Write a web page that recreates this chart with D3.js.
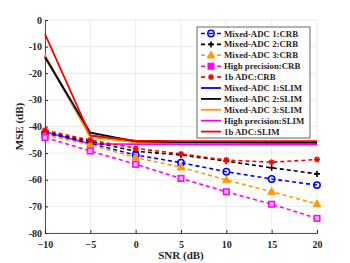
<!DOCTYPE html>
<html><head><meta charset="utf-8">
<script src="https://cdn.jsdelivr.net/npm/d3@7"></script>
<style>body{margin:0;background:#fff}svg{display:block}text{font-family:"Liberation Serif","Times New Roman",serif;font-weight:bold}</style>
</head><body>
<script>
const snr = [-10, -5, 0, 5, 10, 15, 20];
const yTicks = [0, -10, -20, -30, -40, -50, -60, -70, -80];
// CRB series
const crbMixed1 = [-42.5, -46.3, -50.7, -53.6, -57.0, -59.7, -62.0];
const crbMixed2 = [-42.0, -45.6, -49.3, -50.7, -53.0, -55.5, -57.8];
const crbMixed3 = [-43.2, -46.9, -51.6, -55.3, -60.1, -64.5, -69.1];
const crbHigh   = [-44.1, -49.2, -54.2, -59.5, -64.5, -69.2, -74.5];
const crb1b     = [-41.4, -45.1, -48.2, -50.3, -52.6, -53.4, -52.4];
// SLIM series
const slimMixed1 = [-13.6, -43.5, -45.8, -46.2, -46.3, -46.3, -46.3];
const slimMixed2 = [-14.0, -42.3, -45.6, -45.9, -46.0, -46.0, -46.0];
const slimMixed3 = [-13.0, -44.0, -46.0, -46.2, -46.2, -46.2, -46.2];
const slimHigh   = [-42.0, -46.5, -46.6, -46.7, -46.8, -46.8, -46.8];
const slim1b     = [-5.3, -43.3, -45.3, -45.5, -45.5, -45.5, -45.5];

const legendLabels = ["Mixed-ADC 1:CRB","Mixed-ADC 2:CRB","Mixed-ADC 3:CRB","High precision:CRB","1b ADC:CRB",
  "Mixed-ADC 1:SLIM","Mixed-ADC 2:SLIM","Mixed-ADC 3:SLIM","High precision:SLIM","1b ADC:SLIM"];

const series = [
  {v: slimMixed1, c: "#0000ff", dash: null, m: null},
  {v: slimMixed3, c: "#ff9900", dash: null, m: null},
  {v: slimMixed2, c: "#000000", dash: null, m: null},
  {v: slimHigh,   c: "#ff00ff", dash: null, m: null},
  {v: slim1b,     c: "#ff0000", dash: null, m: null},
  {v: crbMixed2, c: "#000000", dash: "4,3", m: "plus"},
  {v: crbMixed1, c: "#0000ff", dash: "4,3", m: "circle"},
  {v: crbMixed3, c: "#ff9900", dash: "4,3", m: "triangle"},
  {v: crbHigh,   c: "#ff00ff", dash: "4,3", m: "square"},
  {v: crb1b,     c: "#ff0000", dash: "4,3", m: "star"},
];
const legendItems = [
  {c:"#0000ff",dash:"4,3",m:"circle"},{c:"#000000",dash:"4,3",m:"plus"},{c:"#ff9900",dash:"4,3",m:"triangle"},
  {c:"#ff00ff",dash:"4,3",m:"squareFill"},{c:"#ff0000",dash:"4,3",m:"star"},
  {c:"#0000ff"},{c:"#000000"},{c:"#ff9900"},{c:"#ff00ff"},{c:"#ff0000"}];

const W = 350, H = 263;
const m = {l: 45, r: 33, t: 20, b: 30};
const svg = d3.select("body").append("svg").attr("width", W).attr("height", H);
const x = d3.scaleLinear().domain([-10, 20]).range([m.l, W - m.r]);
const y = d3.scaleLinear().domain([-80, 0]).range([H - m.b, m.t]);

// grid
const g = svg.append("g");
g.selectAll(".gx").data(snr).enter().append("line")
  .attr("x1", d => x(d)).attr("x2", d => x(d)).attr("y1", y(0)).attr("y2", y(-80))
  .attr("stroke", "#e6e6e6").attr("stroke-width", 0.8);
g.selectAll(".gy").data(yTicks).enter().append("line")
  .attr("y1", d => y(d)).attr("y2", d => y(d)).attr("x1", x(-10)).attr("x2", x(20))
  .attr("stroke", "#e6e6e6").attr("stroke-width", 0.8);

// axes
const xa = svg.append("g").attr("transform", `translate(0,${y(-80)})`)
  .call(d3.axisBottom(x).tickValues(snr).tickSize(-3).tickPadding(6).tickFormat(d3.format("d")));
const ya = svg.append("g").attr("transform", `translate(${x(-10)},0)`)
  .call(d3.axisLeft(y).tickValues(yTicks).tickSize(-3).tickPadding(3).tickFormat(d3.format("d")));
[xa, ya].forEach(a => {
  a.select(".domain").attr("stroke", "#262626").attr("stroke-width", 0.8);
  a.selectAll(".tick line").attr("stroke", "#262626");
  a.selectAll("text").attr("font-size", 10).attr("fill", "#262626")
    .attr("font-family", "Liberation Serif").attr("font-weight", "bold");
});
xa.selectAll("text").attr("dy", "0.88em");
ya.selectAll("text").text(d => String(d)).attr("dy", "0.3em");

// lines
const line = d3.line().x((d, i) => x(snr[i])).y(d => y(d));
function marker(sel, type, c, cx, cy) {
  const s = 3;
  if (type === "circle") sel.append("circle").attr("cx", cx).attr("cy", cy).attr("r", 3.2).attr("fill", "none").attr("stroke", c).attr("stroke-width", 1.5);
  else if (type === "plus") { sel.append("path").attr("d", `M${cx-s},${cy}H${cx+s}M${cx},${cy-s}V${cy+s}`).attr("stroke", c).attr("stroke-width", 1.6); }
  else if (type === "triangle") sel.append("path").attr("d", `M${cx},${cy-4.2}L${cx+4},${cy+2.8}L${cx-4},${cy+2.8}Z`).attr("fill", c).attr("stroke", c).attr("stroke-width", 0.8);
  else if (type === "square") sel.append("rect").attr("x", cx-2.8).attr("y", cy-2.8).attr("width", 5.6).attr("height", 5.6).attr("fill", "#ffb3ff").attr("stroke", c).attr("stroke-width", 1.5);
  else if (type === "squareFill") sel.append("rect").attr("x", cx-3).attr("y", cy-3).attr("width", 6).attr("height", 6).attr("fill", c).attr("stroke", c);
  else if (type === "star") { sel.append("path").attr("d", `M${cx-s},${cy}H${cx+s}M${cx},${cy-s}V${cy+s}M${cx-2.2},${cy-2.2}L${cx+2.2},${cy+2.2}M${cx-2.2},${cy+2.2}L${cx+2.2},${cy-2.2}`).attr("stroke", c).attr("stroke-width", 1.4); }
}
const plot = svg.append("g");
series.forEach(s => {
  plot.append("path").datum(s.v).attr("d", line).attr("fill", "none").attr("stroke", s.c)
    .attr("stroke-width", s.dash ? 1.6 : 1.8).attr("stroke-dasharray", s.dash);
  if (s.m) s.v.forEach((v, i) => marker(plot, s.m, s.c, x(snr[i]), y(v)));
});

// labels
svg.append("text").attr("x", (x(-10) + x(20)) / 2).attr("y", H - 4).attr("text-anchor", "middle")
  .attr("font-size", 11).attr("fill", "#262626").text("SNR (dB)");
svg.append("text").attr("transform", `translate(23,${(y(0)+y(-80))/2}) rotate(-90)`).attr("text-anchor", "middle")
  .attr("font-size", 11).attr("fill", "#262626").text("MSE (dB)");

// legend
const lg = svg.append("g");
const lx = 197, ly = 27, lw = 113, lh = 111;
lg.append("rect").attr("x", lx).attr("y", ly).attr("width", lw).attr("height", lh)
  .attr("fill", "#fff").attr("stroke", "#262626").attr("stroke-width", 0.7);
legendLabels.forEach((t, i) => {
  const yy = ly + 6.5 + i * 10.9;
  const it = legendItems[i];
  lg.append("line").attr("x1", lx + 4).attr("x2", lx + 24).attr("y1", yy).attr("y2", yy)
    .attr("stroke", it.c).attr("stroke-width", it.dash ? 1.6 : 1.8).attr("stroke-dasharray", it.dash ? "4,4" : null);
  if (it.m) marker(lg, it.m, it.c, lx + 14, yy);
  lg.append("text").attr("x", lx + 27).attr("y", yy + 3).attr("font-size", 8.8).attr("fill", "#262626").text(t);
});
</script>
</body></html>
